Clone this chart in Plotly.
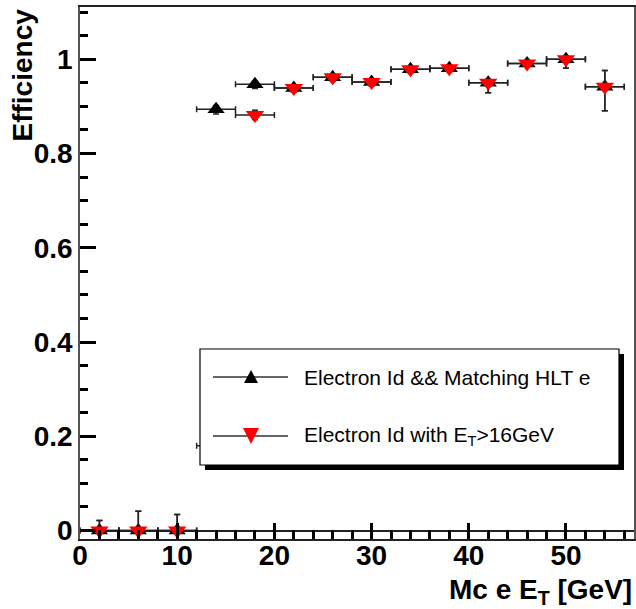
import plotly.graph_objects as go

# ---- data ----
x_centers = [2, 6, 10, 14, 18, 22, 26, 30, 34, 38, 42, 46, 50, 54]
x_halfwidth = [2] * 14

eff_hlt = [0.0, 0.0, 0.0, 0.894, 0.947, 0.939, 0.962, 0.952, 0.979, 0.981, 0.950, 0.991, 1.000, 0.942]
eff_hlt_up = [0.021, 0.041, 0.034, 0.008, 0.007, 0.007, 0.006, 0.006, 0.005, 0.005, 0.007, 0.004, 0.0, 0.034]
eff_hlt_dn = [0.0, 0.0, 0.0, 0.010, 0.009, 0.009, 0.008, 0.008, 0.007, 0.007, 0.021, 0.007, 0.019, 0.051]

eff_et16 = [0.0, 0.0, 0.0, 0.180, 0.882, 0.939, 0.962, 0.952, 0.979, 0.981, 0.950, 0.991, 1.000, 0.942]
eff_et16_up = [0.021, 0.041, 0.034, 0.02, 0.01, 0.007, 0.006, 0.006, 0.005, 0.005, 0.007, 0.004, 0.0, 0.034]
eff_et16_dn = [0.0, 0.0, 0.0, 0.02, 0.01, 0.009, 0.008, 0.008, 0.007, 0.007, 0.021, 0.007, 0.019, 0.051]

x_major_ticks = [0, 10, 20, 30, 40, 50]
y_major_ticks = [0, 0.2, 0.4, 0.6, 0.8, 1.0]
y_tick_text = ["0", "0.2", "0.4", "0.6", "0.8", "1"]

legend_labels = ["Electron Id &amp;&amp; Matching HLT e", "Electron Id with E<sub>T</sub>&gt;16GeV"]
x_title = "Mc e E<sub>T</sub> [GeV]"
y_title = "Efficiency"

# ---- geometry (pixels) ----
W, H = 636, 609
L, R, T, B = 80, 2, 7, 70
PW, PH = W - L - R, H - T - B


def px2x(px):
    return (px - L) / PW


def py2y(py):
    return (H - B - py) / PH


FONT = "Liberation Sans, Arial, Helvetica, sans-serif"
ERRC = "#222222"
TICKC = "#000000"

fig = go.Figure()
fig.add_trace(go.Scatter(
    x=x_centers, y=eff_hlt, mode="markers", showlegend=False,
    marker=dict(symbol="triangle-up", size=15, color="black", line=dict(width=0)),
    error_x=dict(type="data", array=x_halfwidth, color=ERRC, thickness=1.5, width=3),
    error_y=dict(type="data", symmetric=False, array=eff_hlt_up, arrayminus=eff_hlt_dn,
                 color=ERRC, thickness=1.5, width=3),
))
fig.add_trace(go.Scatter(
    x=x_centers, y=eff_et16, mode="markers", showlegend=False,
    marker=dict(symbol="triangle-down", size=16, color="#ff0000", line=dict(width=0)),
    error_x=dict(type="data", array=x_halfwidth, color=ERRC, thickness=1.5, width=3),
    error_y=dict(type="data", symmetric=False, array=eff_et16_up, arrayminus=eff_et16_dn,
                 color=ERRC, thickness=1.5, width=3),
))

shapes = []
# legend shadow and box
shapes.append(dict(type="rect", xref="paper", yref="paper",
                   x0=px2x(205), x1=px2x(624), y0=py2y(470), y1=py2y(354),
                   fillcolor="black", line=dict(width=0), layer="above"))
shapes.append(dict(type="rect", xref="paper", yref="paper",
                   x0=px2x(200), x1=px2x(619), y0=py2y(465), y1=py2y(349),
                   fillcolor="white", line=dict(color="black", width=1.2), layer="above"))
entry_y = [377, 436]
symbols = ["M-7,-6 L7,-6 L0,7 Z", "M-8,8 L8,8 L0,-8 Z"]
colors = ["black", "#ff0000"]
annotations = []
for i in range(2):
    shapes.append(dict(type="line", xref="paper", yref="paper",
                       x0=px2x(213), x1=px2x(288), y0=py2y(entry_y[i]), y1=py2y(entry_y[i]),
                       line=dict(color="#333333", width=1.5), layer="above"))
    shapes.append(dict(type="path", xref="paper", yref="paper",
                       xsizemode="pixel", ysizemode="pixel",
                       xanchor=px2x(251), yanchor=py2y(entry_y[i]),
                       path=symbols[i], fillcolor=colors[i], line=dict(width=0), layer="above"))
    annotations.append(dict(text=legend_labels[i], xref="paper", yref="paper",
                            x=px2x(302), y=py2y(entry_y[i]), xanchor="left", yanchor="middle",
                            showarrow=False, font=dict(family=FONT, size=21, color="black")))

annotations.append(dict(text=y_title, textangle=-90, xref="paper", yref="paper",
                        x=px2x(22), y=1.0, xanchor="center", yanchor="top", showarrow=False,
                        font=dict(family=FONT, size=28, color="black", weight="bold")))
annotations.append(dict(text=x_title, xref="paper", yref="paper",
                        x=1.0, y=py2y(572), xanchor="right", yanchor="top", showarrow=False,
                        font=dict(family=FONT, size=28, color="black", weight="bold")))

fig.update_layout(
    template="none",
    width=W, height=H,
    margin=dict(l=L, r=R, t=T, b=B),
    paper_bgcolor="white", plot_bgcolor="white",
    font=dict(family=FONT),
    shapes=shapes, annotations=annotations,
    showlegend=False,
    xaxis=dict(range=[0, 57], tickvals=x_major_ticks, ticks="inside", ticklen=16, tickwidth=2.5,
               tickcolor=TICKC, showgrid=False, zeroline=False, ticklabelstandoff=-9,
               showline=True, linecolor="#222222", linewidth=1.5, mirror=True,
               tickfont=dict(family=FONT, size=28, color="black", weight="bold"),
               minor=dict(dtick=2, tick0=0, ticks="inside", ticklen=9, tickcolor=TICKC, tickwidth=2.5)),
    yaxis=dict(range=[-0.018, 1.111], tickvals=y_major_ticks, ticktext=y_tick_text,
               ticks="inside", ticklen=16, tickwidth=2.5, tickcolor=TICKC,
               showgrid=False, zeroline=True, zerolinecolor="#222222", zerolinewidth=1.5,
               showline=True, linecolor="#555555", linewidth=1.5, mirror=True,
               tickfont=dict(family=FONT, size=28, color="black", weight="bold"),
               minor=dict(dtick=0.05, tick0=0, ticks="inside", ticklen=8, tickcolor=TICKC, tickwidth=2.5)),
)

fig.write_html("out.html")
